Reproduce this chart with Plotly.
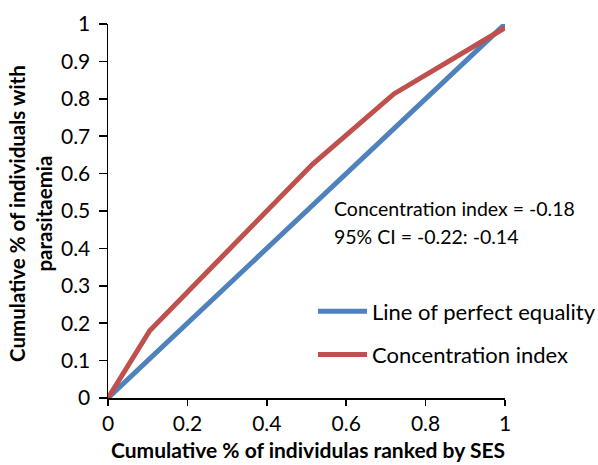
import plotly.graph_objects as go

# Data
equality_x = [0, 1]
equality_y = [0, 1]
conc_x = [0, 0.105, 0.515, 0.72, 1]
conc_y = [0, 0.18, 0.625, 0.813, 0.99]
tick_vals = [0, 0.2, 0.4, 0.6, 0.8, 1]
ytick_vals = [0, 0.1, 0.2, 0.3, 0.4, 0.5, 0.6, 0.7, 0.8, 0.9, 1]
series_names = ["Line of perfect equality", "Concentration index"]
colors = ["#4F81BD", "#C0504D"]
annot_lines = ["Concentration index = -0.18", "95% CI = -0.22: -0.14"]
x_title = "Cumulative % of individulas ranked by SES"
y_title = "Cumulative % of individuals with<br>parasitaemia"

FONT = "Lato"
W, H = 598, 465
# plot area in page pixels: x 108..505, y 10..398
L, T = 108, 10
R, B = W - 505, H - 398
pw, ph = W - L - R, H - T - B

fig = go.Figure()
fig.add_trace(go.Scatter(x=equality_x, y=equality_y, mode="lines",
                         line=dict(color=colors[0], width=5), name=series_names[0],
                         showlegend=False, hoverinfo="skip"))
fig.add_trace(go.Scatter(x=conc_x, y=conc_y, mode="lines",
                         line=dict(color=colors[1], width=5), name=series_names[1],
                         showlegend=False, hoverinfo="skip"))

def px2paper_x(px):
    return (px - L) / pw

def px2paper_y(py):
    return (H - B - py) / ph

shapes = []
annotations = []
# manual legend
for i, (name, col) in enumerate(zip(series_names, colors)):
    cy = [308, 353][i]
    shapes.append(dict(type="line", xref="paper", yref="paper",
                       x0=px2paper_x(318), x1=px2paper_x(367),
                       y0=px2paper_y(cy), y1=px2paper_y(cy),
                       line=dict(color=col, width=5)))
    annotations.append(dict(xref="paper", yref="paper", x=px2paper_x(370), y=px2paper_y(cy),
                            xanchor="left", yanchor="middle", showarrow=False,
                            text=name, font=dict(family=FONT, size=22, color="black")))
# CI annotation
for i, t in enumerate(annot_lines):
    cy = [201, 230][i]
    annotations.append(dict(xref="paper", yref="paper", x=px2paper_x(332), y=px2paper_y(cy),
                            xanchor="left", yanchor="middle", showarrow=False,
                            text=t, font=dict(family=FONT, size=19.5, color="black")))
# axis titles
annotations.append(dict(xref="paper", yref="paper", x=px2paper_x(308), y=px2paper_y(451),
                        xanchor="center", yanchor="middle", showarrow=False,
                        text="<b>" + x_title + "</b>",
                        font=dict(family=FONT, size=21, color="black")))
annotations.append(dict(xref="paper", yref="paper", x=px2paper_x(31), y=px2paper_y(207),
                        xanchor="center", yanchor="middle", showarrow=False, textangle=-90,
                        text="<b>" + y_title.replace("<br>", "</b><br><b>") + "</b>",
                        font=dict(family=FONT, size=20.5, color="black")))

fig.update_layout(
    width=W, height=H, autosize=False,
    margin=dict(l=L, r=R, t=T, b=B, pad=0),
    paper_bgcolor="white", plot_bgcolor="white",
    font=dict(family=FONT, size=21, color="black"),
    shapes=shapes, annotations=annotations,
    hovermode=False,
    xaxis=dict(range=[0, 1], tickvals=tick_vals, ticktext=[f"{v:g}" for v in tick_vals],
               showgrid=False, zeroline=False, showline=True, linecolor="black", linewidth=1.5,
               ticks="outside", ticklen=6, tickcolor="black", tickwidth=1.5,
               ticklabeloverflow="allow", fixedrange=True,
               tickfont=dict(family=FONT, size=21, color="black")),
    yaxis=dict(range=[0, 1], tickvals=ytick_vals, ticktext=[f"{v:g}" for v in ytick_vals],
               showgrid=False, zeroline=False, showline=True, linecolor="black", linewidth=1.5,
               ticks="outside", ticklen=8, tickcolor="black", tickwidth=1.5,
               ticklabelstandoff=4, ticklabeloverflow="allow", fixedrange=True,
               tickfont=dict(family=FONT, size=21, color="black")),
)

fig.write_html("out.html", config={"displayModeBar": False, "staticPlot": True},
               post_script="document.body.style.margin='0';document.body.style.overflow='hidden';")
